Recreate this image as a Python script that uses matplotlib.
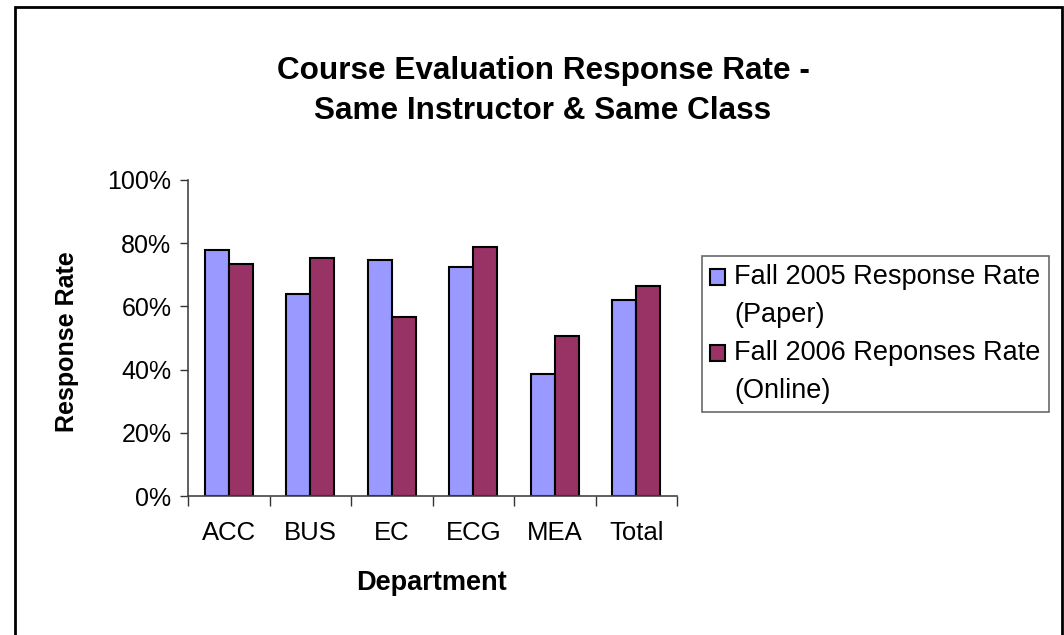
import matplotlib
matplotlib.use("Agg")
import matplotlib.pyplot as plt
import matplotlib.patches as mpatches
import numpy as np

categories = ["ACC", "BUS", "EC", "ECG", "MEA", "Total"]
paper_2005 = [78.0, 63.9, 74.7, 72.5, 38.6, 62.0]
online_2006 = [73.3, 75.3, 56.7, 78.7, 50.7, 66.6]
series_labels = ["Fall 2005 Response Rate\n(Paper)", "Fall 2006 Reponses Rate\n(Online)"]
y_ticks = [0, 20, 40, 60, 80, 100]

plt.rcParams['font.family'] = ['Liberation Sans', 'DejaVu Sans']

W, H = 1064, 635
fig = plt.figure(figsize=(W / 100, H / 100), dpi=100)

# outer chart border
border = mpatches.Rectangle((15 / W, -0.05), (1062 - 15) / W, 1.05 - 7 / H,
                            transform=fig.transFigure, fill=False,
                            edgecolor='black', linewidth=2)
fig.patches.append(border)

ax = fig.add_axes([188 / W, 1 - 496 / H, (677 - 188) / W, (496 - 180) / H])

x = np.arange(len(categories))
bw = 0.295
ax.bar(x - bw / 2, paper_2005, width=bw, color='#9999FF', edgecolor='black',
       linewidth=1.5, label=series_labels[0])
ax.bar(x + bw / 2, online_2006, width=bw, color='#993366', edgecolor='black',
       linewidth=1.5, label=series_labels[1])

ax.set_xlim(-0.5, len(categories) - 0.5)
ax.set_ylim(0, 100)
ax.set_yticks(y_ticks)
ax.set_yticklabels([f"{v}%" for v in y_ticks], fontsize=18)
ax.set_xticks(x)
ax.set_xticklabels(categories, fontsize=18.5)
ax.set_xticks(np.arange(-0.5, len(categories)), minor=True)
ax.tick_params(axis='x', which='major', length=0, pad=18)
ax.tick_params(axis='x', which='minor', length=7, width=1, color='#333333', direction='out')
ax.tick_params(axis='y', length=6, width=1, color='#333333', direction='out', pad=6)

for s in ['top', 'right']:
    ax.spines[s].set_visible(False)
for s in ['left', 'bottom']:
    ax.spines[s].set_color('#444444')
    ax.spines[s].set_linewidth(1.2)

fig.text(432 / W, 1 - 583 / H, "Department", ha='center', va='center',
         fontsize=19.5, fontweight='bold')
fig.text(67 / W, 1 - 342 / H, "Response Rate", ha='center', va='center',
         rotation=90, fontsize=18, fontweight='bold')

fig.text(543 / W, 1 - 91 / H, "Course Evaluation Response Rate -\nSame Instructor & Same Class",
         ha='center', va='center', fontsize=22.7, fontweight='bold', linespacing=1.42)

leg = fig.legend(loc='upper left', bbox_to_anchor=(702 / W, 1 - 256 / H),
                 bbox_transform=fig.transFigure, fontsize=19.5, frameon=True,
                 fancybox=False, edgecolor='#444444', handlelength=0.55,
                 handleheight=0.55, handletextpad=0.35, borderpad=0.3,
                 labelspacing=0.45, borderaxespad=0)
leg.get_frame().set_linewidth(1.2)
for t in leg.get_texts():
    t.set_linespacing(1.6)
# align the swatches with the first line of each entry
for h in leg.legend_handles:
    h.set_y(h.get_y() + 14.0)

fig.savefig("out.png", dpi=100)
